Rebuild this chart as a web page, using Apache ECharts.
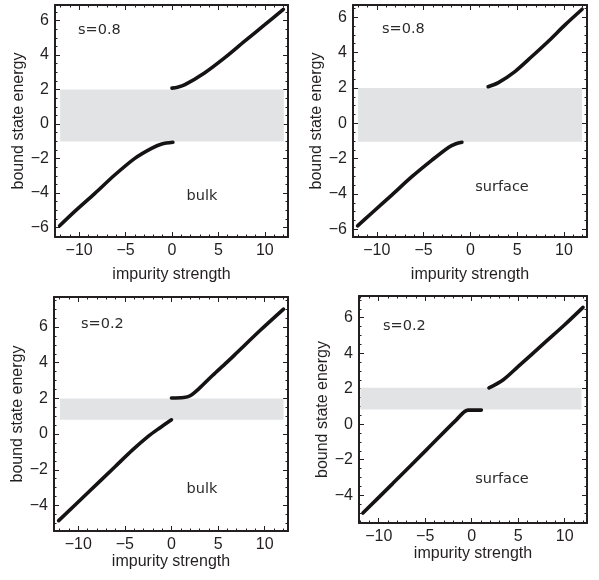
<!DOCTYPE html>
<html>
<head>
<meta charset="utf-8">
<script src="https://cdn.jsdelivr.net/npm/echarts@6/dist/echarts.min.js"></script>
<style>
html, body { margin: 0; padding: 0; background: #fff; }
#main { width: 599px; height: 580px; }
</style>
</head>
<body>
<div id="main"></div>
<script>
// tick labels
var xMajor = [-10, -5, 0, 5, 10];
var yMajorTop = [-6, -4, -2, 0, 2, 4, 6];
var yMajorBottom = [-4, -2, 0, 2, 4, 6];

// s=0.8, bulk
var bulk08Lower = [[-12.1, -5.9], [-10.5, -5.08], [-8.3, -4.02], [-6.2, -2.97], [-4.0, -1.99], [-2.2, -1.41], [-1.1, -1.16], [0.1, -1.06]];
var bulk08Upper = [[0, 2.08], [0.6, 2.13], [1.4, 2.28], [3.5, 2.96], [5.7, 3.85], [7.8, 4.79], [10, 5.76], [12, 6.65]];
// s=0.8, surface
var surf08Lower = [[-12.05, -5.8], [-10.5, -5.06], [-8.4, -4.06], [-6.25, -3.02], [-4.1, -2.08], [-2.3, -1.35], [-1.6, -1.17], [-0.9, -1.07]];
var surf08Upper = [[1.9, 2.07], [3.0, 2.3], [4.8, 2.94], [6.6, 3.79], [8.4, 4.67], [10.15, 5.58], [11.95, 6.45]];
// s=0.2, bulk
var bulk02Lower = [[-12.1, -4.85], [-9, -3.3], [-6, -1.8], [-4.2, -0.9], [-2.5, -0.13], [-1.3, 0.33], [0, 0.8]];
var bulk02Upper = [[0, 2.02], [1.3, 2.05], [2.0, 2.15], [3.0, 2.57], [4.4, 3.28], [5.9, 4.0], [7.1, 4.6], [9.5, 5.8], [12.02, 7.0]];
// s=0.2, surface
var surf02Lower = [[-11.7, -5.01], [-8.5, -3.35], [-4.87, -1.45], [-1.65, 0.24], [-0.4, 0.79], [1.04, 0.79]];
var surf02Upper = [[1.86, 2.04], [3.37, 2.49], [4.98, 3.24], [8, 4.66], [10, 5.6], [11.97, 6.58]];

// gap of the continuum (grey band), per panel
var bandX = [[-12.05, 12.05], [-12.0, 11.94], [-11.96, 12.02], [-11.97, 11.8]];
var bandY = [[-1.02, 2.0], [-1.05, 2.0], [0.8, 2.0], [0.82, 2.05]];

var sLabels = ['s=0.8', 's=0.8', 's=0.2', 's=0.2'];
var kindLabels = ['bulk', 'surface', 'bulk', 'surface'];

// panel layout
var panels = [
    { grid: { left: 55, top: 5, width: 233, height: 232 }, x: [-12.6, 12.5], y: [-6.55, 6.9], yTicks: yMajorTop,
      lines: [bulk08Lower, bulk08Upper], xGap: 30, yGap: 22, sPos: [78, 30], kPos: [202, 196] },
    { grid: { left: 353, top: 5, width: 234, height: 232 }, x: [-12.54, 12.47], y: [-6.43, 6.69], yTicks: yMajorTop,
      lines: [surf08Lower, surf08Upper], xGap: 30, yGap: 28, sPos: [382, 29], kPos: [502, 187] },
    { grid: { left: 54, top: 297, width: 234, height: 234 }, x: [-12.6, 12.5], y: [-5.43, 7.68], yTicks: yMajorBottom,
      lines: [bulk02Lower, bulk02Upper], xGap: 17, yGap: 21, sPos: [81, 324], kPos: [202, 489] },
    { grid: { left: 359, top: 296, width: 228, height: 227 }, x: [-12.12, 12.4], y: [-5.57, 7.22], yTicks: yMajorBottom,
      lines: [surf02Lower, surf02Upper], xGap: 23, yGap: 27, sPos: [383, 326], kPos: [502, 479] }
];

var ink = '#231f20';
var labelFont = 'Liberation Sans';

function steps(from, to, step) {
    var out = [];
    for (var v = Math.ceil(from / step) * step; v <= to + 1e-9; v += step) {
        out.push(Math.round(v * 100) / 100);
    }
    return out;
}

function fmt(v) {
    return String(v).replace('-', '\u2212');
}

// one axis: major ticks (with line, maybe labels) or minor ticks only
function axis(gridIndex, pos, ext, ticks, isMajor, withLabel, name, gap) {
    var a = {
        gridIndex: gridIndex,
        type: 'value',
        position: pos,
        min: ext[0],
        max: ext[1],
        splitLine: { show: false },
        axisLine: { show: isMajor, onZero: false, lineStyle: { color: ink, width: 2 } },
        axisTick: { show: true, inside: true, length: isMajor ? 5 : 2.5, customValues: ticks, lineStyle: { color: ink, width: 1 } },
        axisLabel: { show: withLabel, customValues: ticks, margin: 6, formatter: fmt, color: ink, fontSize: 16, fontFamily: labelFont }
    };
    if (name) {
        a.name = name;
        a.nameLocation = 'middle';
        a.nameGap = gap;
        a.nameTextStyle = { color: ink, fontSize: 16, fontFamily: labelFont };
    }
    return a;
}

var grids = [], xAxes = [], yAxes = [], series = [], graphics = [];

panels.forEach(function (p, i) {
    grids.push(p.grid);
    var xMinor = steps(p.x[0], p.x[1], 1);
    var yMinor = steps(p.y[0], p.y[1], 0.5);
    var xi = xAxes.length, yi = yAxes.length;

    xAxes.push(axis(i, 'bottom', p.x, xMajor, true, true, 'impurity strength', p.xGap));
    xAxes.push(axis(i, 'bottom', p.x, xMinor, false, false));
    xAxes.push(axis(i, 'top', p.x, xMajor, true, false));
    xAxes.push(axis(i, 'top', p.x, xMinor, false, false));

    yAxes.push(axis(i, 'left', p.y, p.yTicks, true, true, 'bound state energy', p.yGap));
    yAxes.push(axis(i, 'left', p.y, yMinor, false, false));
    yAxes.push(axis(i, 'right', p.y, p.yTicks, true, false));
    yAxes.push(axis(i, 'right', p.y, yMinor, false, false));

    // grey band
    series.push({
        type: 'line', xAxisIndex: xi, yAxisIndex: yi, data: [], z: 1, silent: true,
        markArea: {
            silent: true,
            itemStyle: { color: '#e2e3e5' },
            data: [[{ coord: [bandX[i][0], bandY[i][0]] }, { coord: [bandX[i][1], bandY[i][1]] }]]
        }
    });

    // bound state branches
    p.lines.forEach(function (d) {
        series.push({
            type: 'line', xAxisIndex: xi, yAxisIndex: yi, data: d, z: 3,
            showSymbol: false, symbol: 'none', smooth: 0.3,
            lineStyle: { color: '#161314', width: 3.6, cap: 'round' }
        });
    });

    graphics.push({
        type: 'text', x: p.sPos[0], y: p.sPos[1],
        style: { text: sLabels[i], font: '14.5px "DejaVu Sans"', fill: '#2b2b2b', textAlign: 'left', textVerticalAlign: 'middle' }
    });
    graphics.push({
        type: 'text', x: p.kPos[0], y: p.kPos[1],
        style: { text: kindLabels[i], font: '14.5px "DejaVu Sans"', fill: '#2b2b2b', textAlign: 'center', textVerticalAlign: 'middle' }
    });
});

var myChart = echarts.init(document.getElementById('main'));
myChart.setOption({
    animation: false,
    backgroundColor: '#fff',
    grid: grids,
    xAxis: xAxes,
    yAxis: yAxes,
    series: series,
    graphic: graphics
});
</script>
</body>
</html>
